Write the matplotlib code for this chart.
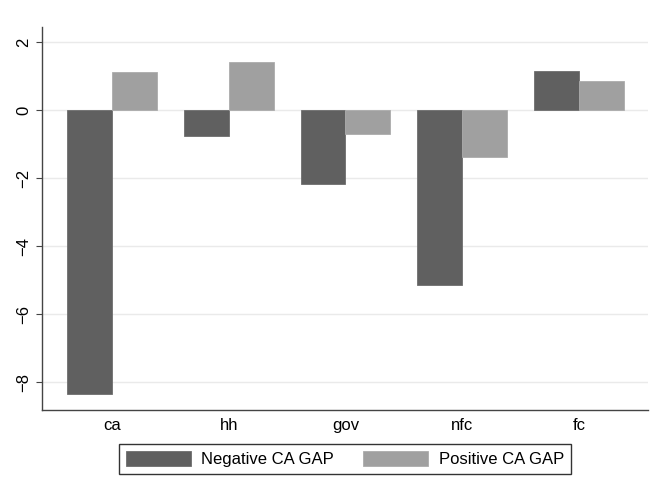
import matplotlib
matplotlib.use("Agg")
import matplotlib.pyplot as plt
import numpy as np

categories = ["ca", "hh", "gov", "nfc", "fc"]
negative_gap = [-8.35, -0.75, -2.18, -5.15, 1.14]
positive_gap = [1.11, 1.42, -0.71, -1.37, 0.84]
yticks = [2, 0, -2, -4, -6, -8]
series_labels = ["Negative CA GAP", "Positive CA GAP"]

plt.rcParams['font.family'] = ['Liberation Sans', 'DejaVu Sans']
plt.rcParams['axes.unicode_minus'] = True

fig = plt.figure(figsize=(6.54, 4.78), dpi=100)
ax = fig.add_axes([42.5/654, 1 - 410/478, (648-42.5)/654, (410-27)/478])

x = np.arange(len(categories))
w = 0.385
ax.bar(x - w/2, negative_gap, width=w, color='#606060', edgecolor='#6e6e6e', linewidth=0.6,
       label=series_labels[0], zorder=3)
ax.bar(x + w/2, positive_gap, width=w, color='#a0a0a0', edgecolor='#acacac', linewidth=0.6,
       label=series_labels[1], zorder=3)

ax.set_xlim(-0.594, 4.59)
ax.set_ylim(-8.82, 2.44)
ax.set_yticks(yticks)
ax.set_yticklabels([str(t).replace('-', '\u2212') for t in yticks], rotation=90, va='center', fontsize=12)
ax.set_xticks(x)
ax.set_xticklabels(categories, fontsize=12)
ax.tick_params(axis='x', length=0, pad=6)
ax.tick_params(axis='y', length=4, width=0.8, color='#444444', pad=4)
ax.grid(axis='y', color='#eaeaea', linewidth=1.0, zorder=0)
ax.set_axisbelow(True)

for s in ['top', 'right']:
    ax.spines[s].set_visible(False)
for s in ['left', 'bottom']:
    ax.spines[s].set_color('#444444')
    ax.spines[s].set_linewidth(1.0)

leg = fig.legend(loc='center', bbox_to_anchor=(345/654, 1 - 459/478), ncol=2, fontsize=12,
                 frameon=True, fancybox=False, edgecolor='black', handlelength=3.9,
                 handleheight=1.0, handletextpad=0.65, columnspacing=1.75,
                 borderpad=0.4, borderaxespad=0)
leg.get_frame().set_linewidth(1.0)

fig.savefig("out.png", dpi=100)
